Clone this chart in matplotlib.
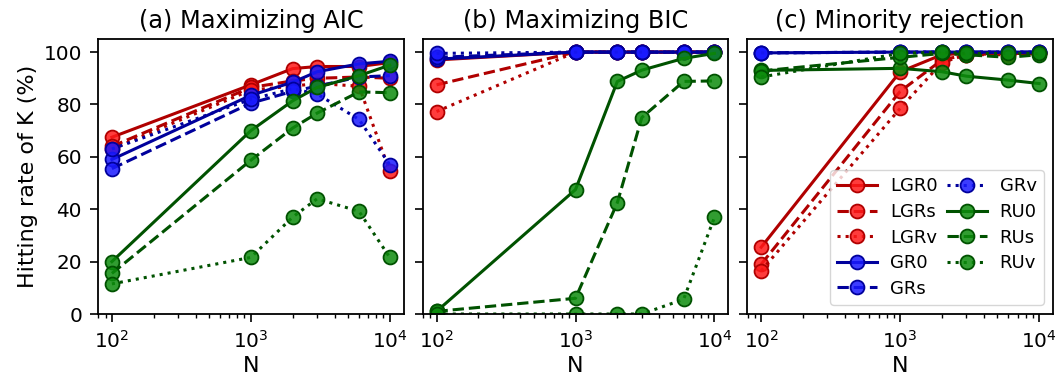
import matplotlib
matplotlib.use("Agg")
import matplotlib.pyplot as plt

N = [100, 1000, 2000, 3000, 6000, 10000]
labels = ["LGR0", "LGRs", "LGRv", "GR0", "GRs", "GRv", "RU0", "RUs", "RUv"]
titles = ["(a) Maximizing AIC", "(b) Maximizing BIC", "(c) Minority rejection"]

# (a) Maximizing AIC
aic_LGR0 = [67.5, 87.5, 93.7, 94.5, 94.5, 96.0]
aic_LGRs = [64.0, 86.5, 89.0, 90.0, 90.5, 90.0]
aic_LGRv = [63.0, 85.5, 87.0, 88.0, 87.0, 54.5]
aic_GR0 = [59.0, 83.5, 88.5, 92.5, 95.5, 96.5]
aic_GRs = [55.5, 80.5, 85.0, 87.0, 90.5, 91.0]
aic_GRv = [63.0, 82.0, 86.0, 84.0, 74.3, 57.0]
aic_RU0 = [20.0, 70.0, 81.4, 86.5, 91.0, 95.0]
aic_RUs = [15.5, 58.7, 71.0, 76.7, 84.8, 84.5]
aic_RUv = [11.5, 21.6, 37.0, 44.0, 39.2, 21.6]

# (b) Maximizing BIC
bic_LGR0 = [97.0, 100, 100, 100, 100, 100]
bic_LGRs = [87.5, 100, 100, 100, 100, 100]
bic_LGRv = [77.3, 100, 100, 100, 100, 100]
bic_GR0 = [97.3, 100, 100, 100, 100, 100]
bic_GRs = [98.0, 100, 100, 100, 100, 100]
bic_GRv = [99.5, 100, 100, 100, 100, 100]
bic_RU0 = [1.0, 47.5, 88.8, 93.1, 97.6, 99.5]
bic_RUs = [1.0, 6.0, 42.5, 75.0, 88.8, 89.0]
bic_RUv = [0.0, 0.0, 0.0, 0.0, 5.6, 36.9]

# (c) Minority rejection
mr_LGR0 = [25.5, 92.5, 99.0, 99.5, 99.5, 99.5]
mr_LGRs = [19.0, 85.0, 97.0, 99.0, 99.5, 99.5]
mr_LGRv = [16.5, 78.5, 96.0, 99.0, 99.0, 99.5]
mr_GR0 = [99.7, 100, 100, 100, 100, 100]
mr_GRs = [99.7, 100, 100, 100, 100, 100]
mr_GRv = [99.7, 100, 100, 100, 100, 100]
mr_RU0 = [93.0, 93.8, 92.5, 90.8, 89.3, 88.0]
mr_RUs = [92.8, 98.0, 99.5, 99.0, 98.0, 99.0]
mr_RUv = [90.5, 99.5, 100, 99.5, 99.5, 99.5]

panels = [
    [aic_LGR0, aic_LGRs, aic_LGRv, aic_GR0, aic_GRs, aic_GRv, aic_RU0, aic_RUs, aic_RUv],
    [bic_LGR0, bic_LGRs, bic_LGRv, bic_GR0, bic_GRs, bic_GRv, bic_RU0, bic_RUs, bic_RUv],
    [mr_LGR0, mr_LGRs, mr_LGRv, mr_GR0, mr_GRs, mr_GRv, mr_RU0, mr_RUs, mr_RUv],
]

line_colors = ["#b00000", "#00009c", "#005200"]
face_colors = [(1.0, 0.1, 0.1, 0.85), (0.1, 0.1, 1.0, 0.85), (0.05, 0.55, 0.05, 0.85)]
styles = ["-", "--", ":"]

fig, axes = plt.subplots(1, 3, figsize=(10.6, 3.85), dpi=100, sharey=True)
fig.subplots_adjust(left=98/1060, right=1053/1060, bottom=1-314/385, top=1-39/385, wspace=0.062)

for ax, data, title in zip(axes, panels, titles):
    for i, (vals, lab) in enumerate(zip(data, labels)):
        g = i // 3
        ax.plot(N, vals, linestyle=styles[i % 3], color=line_colors[g], lw=2.2,
                marker="o", markersize=10, markerfacecolor=face_colors[g],
                markeredgecolor=line_colors[g], markeredgewidth=1.3, label=lab)
    ax.set_xscale("log")
    ax.set_ylim(0, 105)
    ax.set_title(title, fontsize=17.3, pad=8)
    ax.set_xlabel("N", fontsize=16, labelpad=3)
    ax.tick_params(which="major", labelsize=14.4, length=5.5, width=1.2, pad=6)
    ax.tick_params(which="minor", length=3, width=1.0)
    for s in ax.spines.values():
        s.set_linewidth(1.3)
    ax.set_yticks([0, 20, 40, 60, 80, 100])

axes[0].set_ylabel("Hitting rate of K (%)", fontsize=16)
axes[2].legend(ncol=2, loc="lower right", fontsize=13, columnspacing=0.55,
               handlelength=2.2, handletextpad=0.7, labelspacing=0.42)

fig.savefig("out.png", dpi=100)
